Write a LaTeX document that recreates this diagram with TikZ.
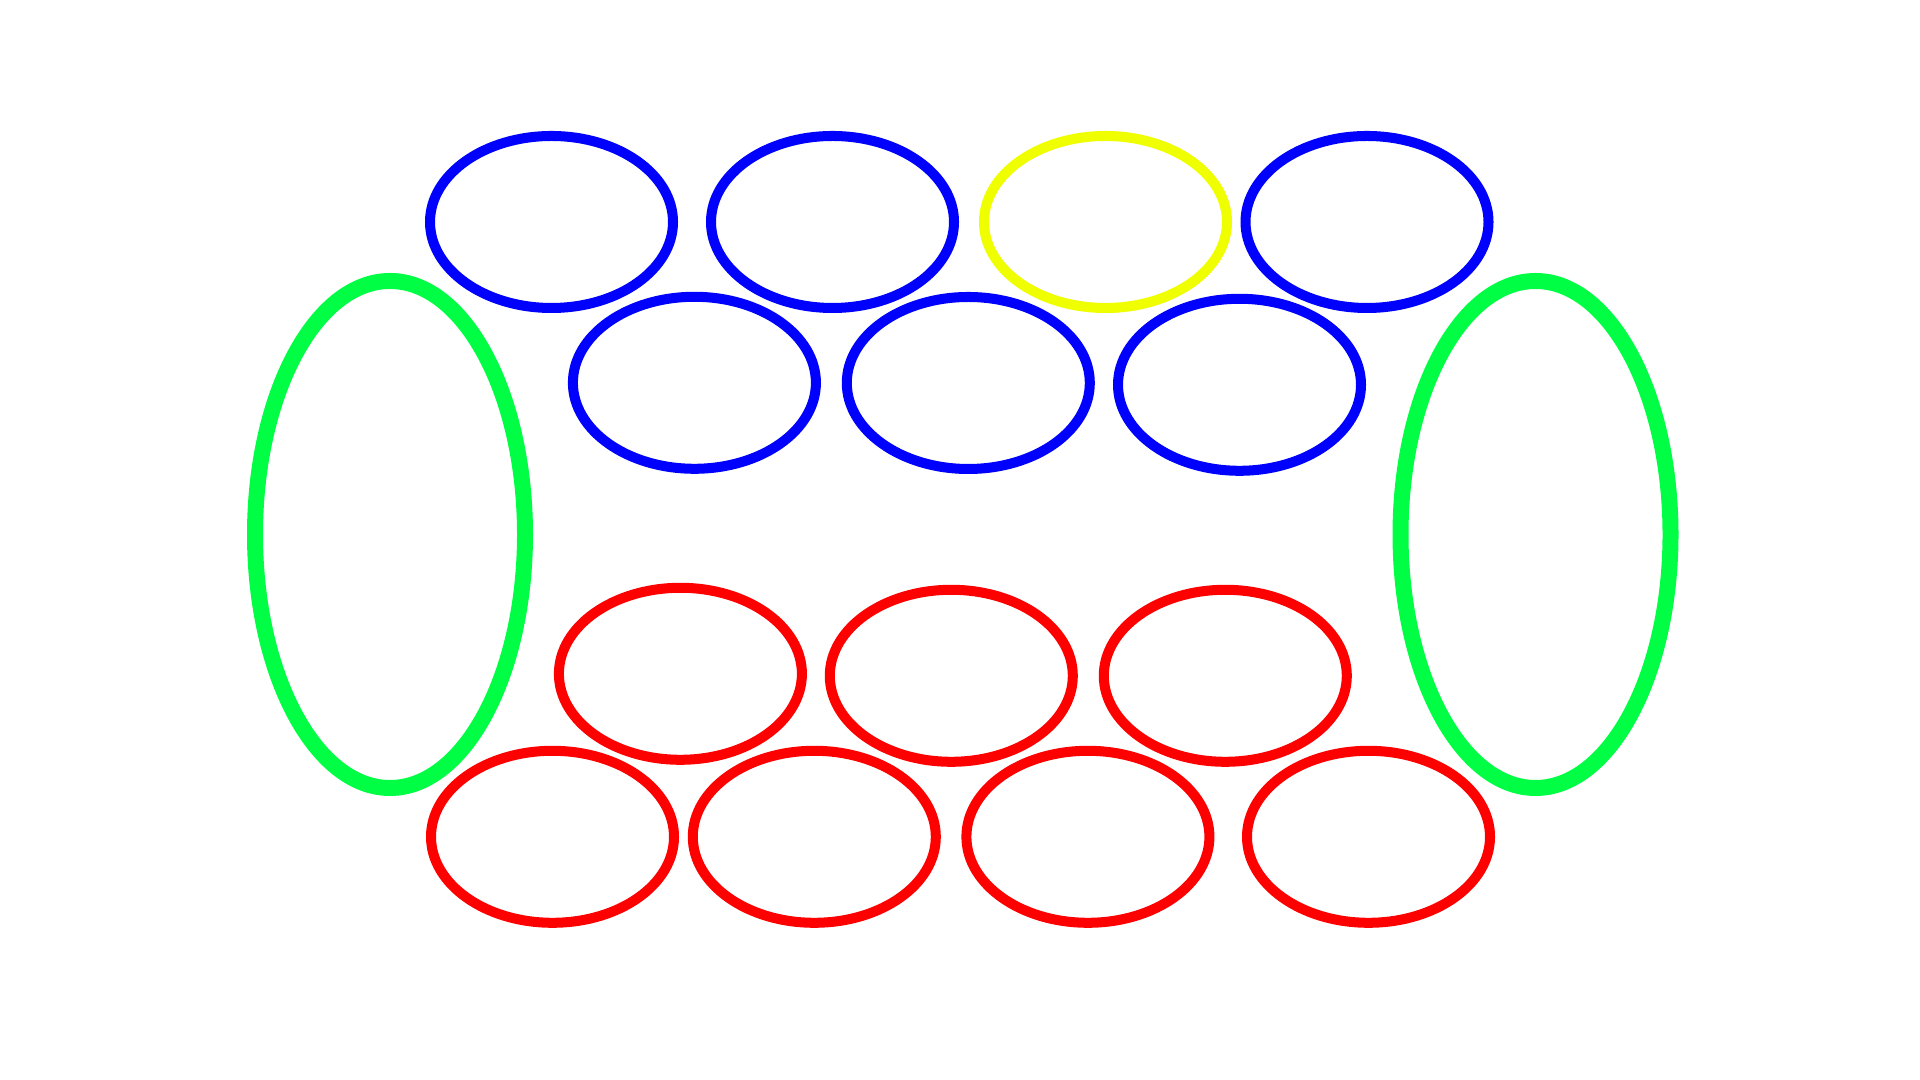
\documentclass[tikz,border=0pt]{standalone}
\usepackage{xcolor}
\usetikzlibrary{shapes.geometric}
\definecolor{cellblue}{HTML}{0000FF}
\definecolor{cellred}{HTML}{FF0000}
\definecolor{cellgreen}{HTML}{00FF44}
\definecolor{cellyellow}{HTML}{F0FF00}
\tikzset{
  cell/.style={ellipse, draw=#1, line width=2.85pt, inner sep=0pt,
    minimum width=2.43cm, minimum height=1.72cm}
}

\begin{document}
\begin{tikzpicture}
\useasboundingbox[fill=white] (0,0) rectangle (19.2,10.8);
% upper rows
\begin{scope}[every node/.style={cell=cellblue}]
    \node (A) at (5.515,8.58) {};
    \node (B) at (8.325,8.58) {};
    \node[draw=cellyellow] (C) at (11.055,8.58) {};
    \node (D) at (13.67,8.58) {};
    \node (E) at (6.944,6.972) {};
    \node (F) at (9.683,6.97) {};
    \node (G) at (12.395,6.952) {};
\end{scope}
% lower rows
\begin{scope}[every node/.style={cell=cellred}]
    \node (H) at (6.804,4.062) {};
    \node (I) at (9.513,4.042) {};
    \node (J) at (12.253,4.042) {};
    \node (K) at (5.525,2.432) {};
    \node (L) at (8.143,2.432) {};
    \node (M) at (10.879,2.432) {};
    \node (N) at (13.685,2.432) {};
\end{scope}
% sides
\begin{scope}[every node/.style={ellipse, draw=cellgreen, line width=4.55pt,
    inner sep=0pt, minimum width=2.7cm, minimum height=5.07cm}]
    \node (P) at (3.90,5.455) {};
    \node (Q) at (15.355,5.455) {};
\end{scope}
\end{tikzpicture}
\end{document}
